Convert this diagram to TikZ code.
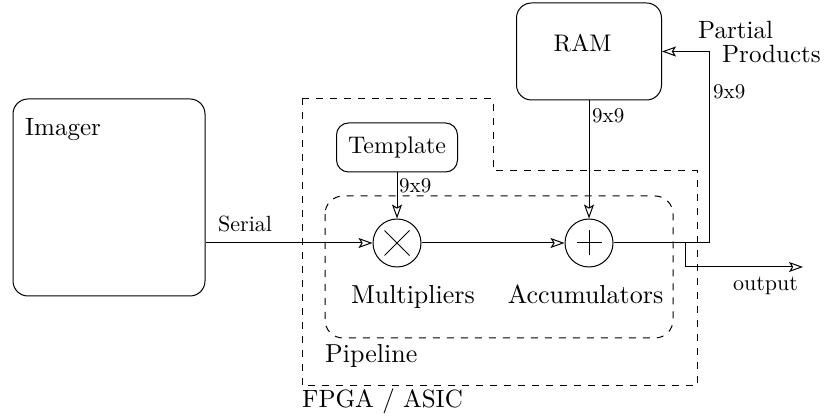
\documentclass[tikz,border=0pt]{standalone}
\usepackage{fontspec}
\setmainfont{lmroman10-regular.otf}
\usetikzlibrary{positioning,arrows.meta}

\newcommand\bigfont{\fontsize{26}{28}\selectfont}
\newcommand\labfont{\fontsize{25}{27}\selectfont}
\newcommand\midfont{\fontsize{24}{26}\selectfont}
\newcommand\smallfont{\fontsize{21}{23}\selectfont}

\tikzset{
  >={Stealth[open,length=14pt,width=10pt,inset=3pt]},
  block/.style={draw, rounded corners=15pt, line width=1pt, inner sep=0pt},
  op/.style={draw, circle, minimum size=48pt, inner sep=0pt, line width=1pt},
  dashbox/.style={draw, dash pattern=on 7pt off 7pt, line width=1pt},
  wire/.style={line width=1pt},
  txt/.style={inner sep=0pt}
}

\begin{document}
\begin{tikzpicture}[x=10pt,y=10pt]
\useasboundingbox (0,0) rectangle (82.5,-41.9);

    % FPGA / ASIC boundary
    \draw[dashbox] (30.2,-9.9) -- (49.3,-9.9) -- (49.3,-17.1) -- (69.7,-17.1) -- (69.7,-38.6) -- (30.2,-38.6) -- cycle;
    \node[txt, anchor=base west] (fpga) at (30.2,-40.8) {\labfont FPGA / ASIC};

    % pipeline
    \draw[dashbox, rounded corners=18pt] (32.5,-19.6) rectangle (67.3,-33.8);
    \node[txt, anchor=base west] (pipe) at (32.5,-36.3) {\bigfont Pipeline};

    \node[block, minimum width=192pt, minimum height=197pt] (imager) at (10.9,-19.75) {};
    \node[txt, anchor=base west] (imagertxt) at (2.5,-13.6) {\labfont Imager};

    \node[block, rounded corners=12pt, minimum width=121pt, minimum height=49pt] (template) at (39.7,-14.75) {\midfont Template};

    \node[block, minimum width=145pt, minimum height=97pt] (ram) at (58.9,-5.15) {};
    \node[txt, anchor=base] (ramtxt) at (58.25,-5.2) {\midfont RAM};

    \node[op] (mult) at (39.7,-24.3) {};
    \draw[wire] ([shift={(-1.25,1.25)}]mult.center) -- ([shift={(1.25,-1.25)}]mult.center);
    \draw[wire] ([shift={(-1.25,-1.25)}]mult.center) -- ([shift={(1.25,1.25)}]mult.center);
    \node[txt, anchor=base] (multtxt) at (41.3,-30.4) {\bigfont Multipliers};

    \node[op] (acc) at (58.9,-24.3) {};
    \draw[wire] ([shift={(-1.25,0)}]acc.center) -- ([shift={(1.25,0)}]acc.center);
    \draw[wire] ([shift={(0,-1.25)}]acc.center) -- ([shift={(0,1.25)}]acc.center);
    \node[txt, anchor=base] (acctxt) at (58.55,-30.4) {\bigfont Accumulators};

    \coordinate (fb) at (70.9,-24.3);
    \coordinate (tap) at (68.5,-24.3);
    \coordinate (outtip) at (80.3,-26.7);

    \draw[wire,->] (imager.east |- mult.west) -- (mult.west);
    \node[txt, anchor=base west] (serial) at (21.8,-23.2) {\fontsize{22}{24}\selectfont Serial};

    \draw[wire,->] (template) -- (mult);
    \node[txt, anchor=base west] (tempsize) at (39.9,-19.3) {\smallfont 9x9};

    \draw[wire,->] (mult) -- (acc);

    \draw[wire,->] (ram) -- (acc);
    \node[txt, anchor=base west] (ramsize) at (59.2,-12.3) {\smallfont 9x9};

    \draw[wire,->] (acc) -- (fb) |- (ram.east);
    \node[txt, anchor=base west] (fbsize) at (71.3,-9.9) {\smallfont 9x9};
    \node[txt, anchor=base west] (partial) at (69.8,-3.9) {\labfont Partial};
    \node[txt, anchor=base west] (products) at (72.2,-6.3) {\labfont Products};

    \draw[wire,->] (tap) |- (outtip);
    \node[txt, anchor=base west] (outtxt) at (73.3,-29.1) {\fontsize{22}{24}\selectfont output};

\end{tikzpicture}
\end{document}
